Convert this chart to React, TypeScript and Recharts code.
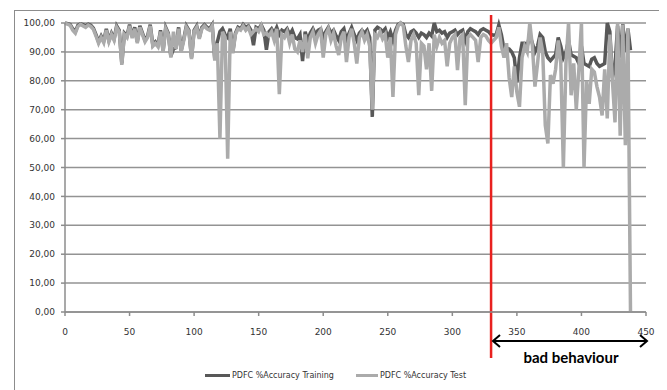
import { CartesianGrid, Line, LineChart, ReferenceLine, XAxis, YAxis } from "recharts"

// %Accuracy per run (every second run)
const trainingAcc = [
  100, 99.8, 99.5, 98, 97, 99.2, 99.7, 99.4, 99, 99.6,
  99.2, 98.2, 96, 93.5, 95.5, 93.8, 98, 94, 96.5, 94.5,
  99, 97.5, 86, 96.5, 95.5, 99.4, 95.3, 98.5, 93.5, 99,
  96.5, 94, 95.5, 99.4, 92.5, 93.5, 92.3, 97.5, 90.5, 98.5,
  96.5, 88.5, 91, 91.5, 98.5, 90.5, 94.5, 99, 97.5, 88,
  97.5, 99, 95, 98.5, 99.4, 98.5, 98, 99.4, 87.5, 93.5,
  97, 98, 96, 95, 98, 90, 96.5, 98.5, 98, 99.5,
  98.5, 99, 97.5, 92.3, 98.5, 98, 99.3, 97.5, 90.7, 97,
  98, 96.5, 98.5, 96, 97.5, 97, 98, 96, 97.5, 95,
  94.5, 96, 86.8, 97, 94, 96.5, 98, 96, 97.5, 98,
  95, 97, 98.5, 96.5, 97.5, 95.5, 94, 97, 98, 94,
  96.5, 98.5, 96, 94, 96.5, 97.5, 96.5, 97.5, 95, 67.5,
  97.5, 98.5, 98, 97, 98, 95, 97, 94, 97.5, 99.5,
  100, 99.5, 96, 95, 97, 97.5, 96.5, 95, 96.5, 96,
  95, 96.5, 95.5, 100, 97, 97.5, 96.5, 97, 95, 96.5,
  97, 97.5, 96, 97, 97.5, 94, 97, 98, 97.5, 97,
  96, 97.5, 98, 97.5, 97, 96, 95.8, 96, 99.3, 96,
  91, 91.3, 91, 90, 88, 79.4, 88, 93, 93, 92,
  96, 93, 90, 92, 96, 95, 90, 88, 87, 88,
  89, 95, 92, 88, 90, 94, 89, 88.5, 88, 86,
  92, 86, 85.5, 85, 87.5, 88, 86, 85, 85.5, 86,
  100, 97, 81, 85, 99, 88, 99.6, 90, 98, 90.6,
]

const testAcc = [
  99.8, 99.6, 99.2, 97.5, 96.5, 98.8, 99.5, 99, 98.5, 99.3,
  98.8, 97.8, 95.5, 93, 95, 93.2, 97.5, 93.5, 96, 94,
  98.5, 97, 85.5, 96, 95, 99, 94.8, 98, 93, 98.5,
  96, 93.5, 95, 99, 92, 93, 91.8, 97, 90, 98,
  96, 88, 97, 91, 98, 90, 94, 98.5, 97, 87.5,
  97, 98.5, 94.5, 98, 99, 98, 97.5, 99, 87, 93,
  60, 97, 95, 53, 97, 89.5, 96, 98, 97.5, 99,
  97.5, 98.5, 96, 97, 98, 97, 99, 96, 96.5, 95.5,
  97, 94, 98, 75.4, 96, 95, 97, 93, 96, 91,
  90, 94, 90, 96, 87.8, 95, 97, 93, 96, 97.5,
  88, 96, 98, 94, 96.5, 92, 88.9, 95, 97, 86.5,
  95, 98, 93, 86, 95, 97, 94, 96, 92, 70,
  96, 95, 97, 94.5, 96, 88, 95, 74.4, 96, 99,
  100, 99, 92, 86.5, 94, 96, 93, 75, 93, 92,
  84, 93, 76.5, 96, 92, 95, 93, 94, 85, 93,
  95, 96, 83.7, 95, 96, 71.6, 95, 96, 95, 94,
  86.5, 95, 96, 95.5, 94, 93, 94, 95, 98.5, 92,
  88, 93, 81, 74.4, 85, 76, 71, 88, 92, 90,
  100, 92, 78, 86, 95, 90, 64.6, 58.3, 82, 79,
  84, 94, 86, 50, 86, 100, 75, 86, 70, 84,
  100, 50, 80, 72, 84, 83, 78, 74.4, 68, 84,
  67, 96, 80, 65.6, 100, 61, 99.5, 57.7, 98, 0,
]

const xTicks = [0, 50, 100, 150, 200, 250, 300, 350, 400, 450]
const yTicks = [0, 10, 20, 30, 40, 50, 60, 70, 80, 90, 100]
const splitRun = 330

const data = testAcc.map((test, i) => ({ run: i * 2, training: trainingAcc[i], test }))

const font = "'DejaVu Sans', sans-serif"
const tickStyle = { fontSize: 9, fill: "#333", fontFamily: font }

// red split marker, runs past the plot at both ends
const SplitLine = (props: any) => {
  const top = Math.min(props.y1, props.y2)
  const bottom = Math.max(props.y1, props.y2)
  return <line x1={props.x1} y1={top - 8} x2={props.x2} y2={bottom + 46} stroke="#e8211f" strokeWidth={2.5} />
}

export default function App() {
  return (
    <div style={{ position: "relative", marginLeft: 6, marginTop: 2, width: 649, height: 384, border: "1px solid #8c8c8c", borderBottom: "none" }}>
      <LineChart width={649} height={378} data={data} margin={{ top: 12, right: 18, bottom: 47, left: 6 }}>
        <CartesianGrid vertical={false} stroke="#939393" strokeWidth={1.5} />
        <XAxis
          dataKey="run"
          type="number"
          domain={[0, 450]}
          ticks={xTicks}
          tick={tickStyle}
          stroke="#8c8c8c"
          strokeWidth={1.5}
          tickSize={4}
          tickMargin={13}
          height={30}
        />
        <YAxis
          domain={[0, 100]}
          ticks={yTicks}
          tick={tickStyle}
          tickFormatter={(v: number) => v.toFixed(2).replace(".", ",")}
          stroke="#8c8c8c"
          strokeWidth={1.5}
          tickSize={4}
          tickMargin={6}
          width={44}
        />
        <Line dataKey="training" stroke="#585858" strokeWidth={3.5} dot={false} isAnimationActive={false} />
        <Line dataKey="test" stroke="#ababab" strokeWidth={3.5} dot={false} isAnimationActive={false} />
        <ReferenceLine x={splitRun} ifOverflow="visible" shape={SplitLine} />
      </LineChart>
      <svg width={649} height={384} style={{ position: "absolute", left: 0, top: 0, pointerEvents: "none" }}>
        <line x1={478} y1={330} x2={632} y2={330} stroke="#000" strokeWidth={2} />
        <polyline points="485,324 478,330 485,336" fill="none" stroke="#000" strokeWidth={2} />
        <polyline points="625,324 632,330 625,336" fill="none" stroke="#000" strokeWidth={2} />
        <text x={556} y={352} textAnchor="middle" fontFamily="Lato, sans-serif" fontWeight="bold" fontSize={15} fill="#000">
          bad behaviour
        </text>
      </svg>
      <div style={{ position: "absolute", top: 360, left: 190, display: "flex", alignItems: "center", fontFamily: font, fontSize: 8, color: "#333", whiteSpace: "nowrap" }}>
        <span style={{ display: "inline-block", width: 25, height: 3, background: "#585858", marginRight: 2 }} />
        <span>PDFC %Accuracy Training</span>
        <span style={{ display: "inline-block", width: 22, height: 3, background: "#ababab", marginLeft: 22, marginRight: 2 }} />
        <span>PDFC %Accuracy Test</span>
      </div>
    </div>
  )
}
